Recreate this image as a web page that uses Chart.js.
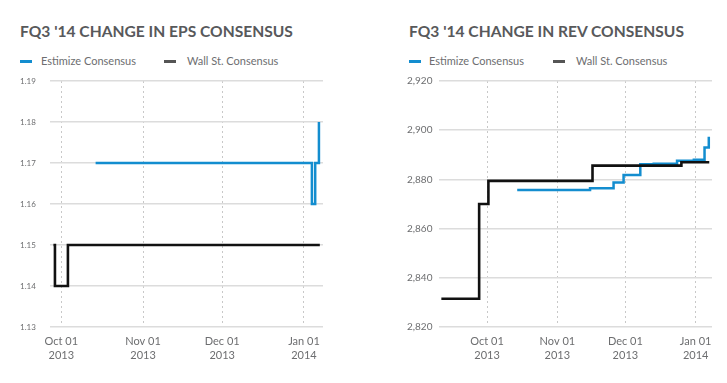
<!DOCTYPE html>
<html><head><meta charset="utf-8">
<script src="https://cdn.jsdelivr.net/npm/chart.js@4/dist/chart.umd.min.js"></script>
<style>
html,body{margin:0;padding:0;background:#fff;width:727px;height:383px;overflow:hidden;font-family:Lato,"Open Sans",sans-serif;}
.title{position:absolute;font-weight:700;font-size:15.6px;line-height:18px;color:#58595b;white-space:nowrap}
.lg{position:absolute;font-size:11px;line-height:14px;color:#6d6e70;white-space:nowrap}
.dash{position:absolute;width:12px;height:3px}
canvas{position:absolute;top:0}
</style></head><body>
<div class="title" style="left:20px;top:22px">FQ3 '14 CHANGE IN EPS CONSENSUS</div>
<div class="dash" style="left:20px;top:60px;background:#138dcf"></div>
<div class="lg" style="left:41px;top:54px">Estimize Consensus</div>
<div class="dash" style="left:164px;top:60px;background:#555"></div>
<div class="lg" style="left:187px;top:54px">Wall St. Consensus</div>

<div class="title" style="left:409px;top:22px">FQ3 '14 CHANGE IN REV CONSENSUS</div>
<div class="dash" style="left:409px;top:60px;background:#138dcf"></div>
<div class="lg" style="left:429px;top:54px">Estimize Consensus</div>
<div class="dash" style="left:553px;top:60px;background:#555"></div>
<div class="lg" style="left:576px;top:54px">Wall St. Consensus</div>

<canvas id="c1" width="360" height="383" style="left:0"></canvas>
<canvas id="c2" width="367" height="383" style="left:360px"></canvas>
<script>
// ---- Data (dates are when a consensus value took effect) ----
const monthTicks = ["2013-10-01","2013-11-01","2013-12-01","2014-01-01"];
const monthTickLabels = [["Oct 01","2013"],["Nov 01","2013"],["Dec 01","2013"],["Jan 01","2014"]];

const epsEstimizeDates  = ["2013-10-14T00:00","2014-01-04T00:00","2014-01-05T06:00","2014-01-06T16:00"];
const epsEstimizeValues = [1.17, 1.16, 1.17, 1.18];
const epsWallStDates    = ["2013-09-28T00:00","2013-09-28T14:00","2013-10-03T12:00","2014-01-07T00:00"];
const epsWallStValues   = [1.15, 1.14, 1.15, 1.15];
const epsYTicks = [1.13, 1.14, 1.15, 1.16, 1.17, 1.18, 1.19];
const epsXRange = ["2013-09-26T17:00","2014-01-08T05:00"];

const revEstimizeDates  = ["2013-10-14T07:00","2013-11-15T10:00","2013-11-25T19:00","2013-11-30T05:00","2013-12-07T14:00","2013-12-13T12:00","2013-12-23T19:00","2013-12-31T05:00","2014-01-04T22:00","2014-01-06T19:00"];
const revEstimizeValues = [2875.7, 2876.4, 2878.7, 2881.8, 2886.2, 2886.4, 2887.6, 2888.0, 2893.0, 2897.3];
const revWallStDates    = ["2013-09-10T20:00","2013-09-27T12:00","2013-10-01T14:00","2013-11-16T12:00","2013-12-25T17:00","2014-01-07T00:00"];
const revWallStValues   = [2831.5, 2870.0, 2879.4, 2885.6, 2887.0, 2887.0];
const revYTicks = [2820, 2840, 2860, 2880, 2900, 2920];
const revXRange = ["2013-09-09T19:00","2014-01-08T05:00"];

// ---- helpers ----
const ORIGIN = Date.UTC(2013, 9, 1);
const day = s => (Date.parse(s + (s.length > 10 ? "Z" : "T00:00Z")) - ORIGIN) / 86400000;
const pts = (dates, vals) => dates.map((d, i) => ({x: day(d), y: vals[i]}));
const BLUE = "#138dcf", BLACK = "#111111";
const tickDays = monthTicks.map(day);

function makeChart(id, cfg) {
  const ds = (label, data, color, w) => ({label, data, borderColor: color, backgroundColor: color,
    borderWidth: w, stepped: true, pointRadius: 0, fill: false, tension: 0,
    borderCapStyle: "butt", borderJoinStyle: "miter"});
  return new Chart(document.getElementById(id), {
    type: "line",
    data: {datasets: [
      ds("Wall St. Consensus", pts(cfg.wDates, cfg.wVals), BLACK, 2.6),
      ds("Estimize Consensus", pts(cfg.eDates, cfg.eVals), BLUE, 2.5)
    ]},
    options: {
      responsive: false, animation: false, devicePixelRatio: 1,
      layout: {padding: cfg.padding},
      plugins: {legend: {display: false}, tooltip: {enabled: false}},
      scales: {
        x: {
          type: "linear", min: day(cfg.xRange[0]), max: day(cfg.xRange[1]),
          afterBuildTicks: s => { s.ticks = tickDays.map(v => ({value: v})); },
          afterFit: s => { s.height = 56; },
          grid: {drawTicks: false, color: "#c8c8c8", lineWidth: 1},
          border: {display: false, dash: [2, 3]},
          ticks: {
            padding: 7, color: "#6d6e70", maxRotation: 0, autoSkip: false,
            font: {family: "Lato", size: 11, lineHeight: 1.3},
            callback: (v) => { const i = tickDays.indexOf(v); return i >= 0 ? monthTickLabels[i] : ""; }
          }
        },
        y: {
          min: cfg.yTicks[0], max: cfg.yTicks[cfg.yTicks.length - 1],
          afterBuildTicks: s => { s.ticks = cfg.yTicks.map(v => ({value: v})); },
          afterFit: s => { s.width = cfg.yWidth; },
          grid: {drawTicks: false, color: "#dcdcdc", lineWidth: 1.5},
          border: {display: false},
          ticks: {
            crossAlign: "far", color: "#6d6e70",
            font: {family: "Lato", size: cfg.yFont},
            callback: cfg.yFmt
          }
        }
      }
    }
  });
}

makeChart("c1", {
  eDates: epsEstimizeDates, eVals: epsEstimizeValues,
  wDates: epsWallStDates, wVals: epsWallStValues,
  yTicks: epsYTicks, xRange: epsXRange,
  padding: {left: 20, right: 37, top: 81, bottom: 0},
  yWidth: 30, yFont: 8,
  yFmt: v => v.toFixed(2)
});
makeChart("c2", {
  eDates: revEstimizeDates, eVals: revEstimizeValues,
  wDates: revWallStDates, wVals: revWallStValues,
  yTicks: revYTicks, xRange: revXRange,
  padding: {left: 47, right: 15, top: 81, bottom: 0},
  yWidth: 32, yFont: 10,
  yFmt: v => v.toLocaleString("en-US")
});
</script>
</body></html>
